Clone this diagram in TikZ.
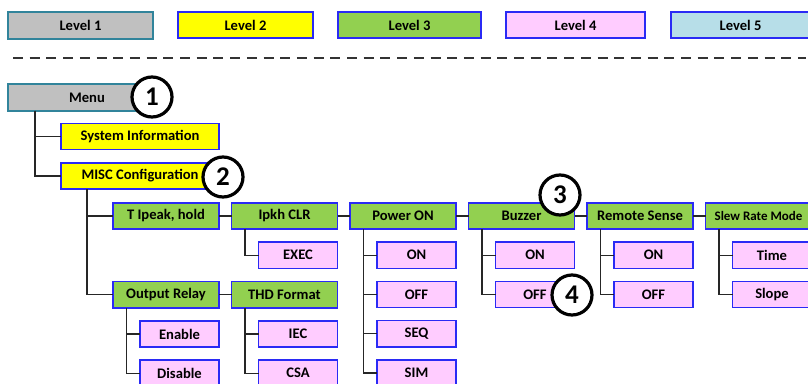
\documentclass[tikz,border=0pt]{standalone}
\usepackage{fontspec}
\setmainfont{Carlito}
\usepackage{tikz}
\usetikzlibrary{positioning,calc}
\definecolor{tealedge}{HTML}{31849B}
\definecolor{boxblue}{HTML}{2A2AF5}
\definecolor{lvlgray}{HTML}{C0C0C0}
\definecolor{lvlyellow}{HTML}{FFFF00}
\definecolor{lvlgreen}{HTML}{92D050}
\definecolor{lvlpink}{HTML}{FFCCFF}
\definecolor{lvlblue}{HTML}{B7DEE8}
\tikzset{
box/.style={
draw=boxblue,
line width=1.3pt,
minimum height=26.25pt,
inner sep=0pt,
outer sep=0pt,
align=center,
font=\fontsize{14.6}{16}\selectfont\bfseries
},
lvlone/.style={
box,
draw=tealedge,
line width=2.2pt,
fill=lvlgray
},
lvltwo/.style={
box,
fill=lvlyellow,
minimum width=158pt
},
lvlthree/.style={
box,
fill=lvlgreen,
minimum width=106pt
},
lvlfour/.style={
box,
fill=lvlpink,
minimum width=79pt
},
lvlfive/.style={
box,
fill=lvlblue
},
branch/.style={
line width=1.3pt,
draw=black!85
},
callout/.style={
circle,
draw,
line width=3.2pt,
fill=white,
minimum size=40pt,
inner sep=0pt,
font=\fontsize{27}{27}\selectfont\bfseries
}
}

\begin{document}
\begin{tikzpicture}[x=1pt,y=-1pt,node distance=13pt and 12.5pt]
\useasboundingbox (0,0) rectangle (808,383);

% legend
\node[lvlone,minimum width=145pt](lone) at (80.5,25.5){Level 1};
\node[lvltwo,minimum width=135pt](ltwo) at (245.5,25){Level 2};
\node[lvlthree,minimum width=143pt](lthree) at (409.5,25){Level 3};
\node[lvlfour,minimum width=139pt](lfour) at (575.5,25){Level 4};
\node[lvlfive,minimum width=139pt](lfive) at (740.5,25){Level 5};
\draw[line width=1.3pt,black!80,dash pattern=on 10pt off 6.7pt](13,58)--(806,58);

% menu tree
\node[lvlone,minimum width=158pt](menu) at (87,97.5){Menu};
\node[lvltwo](sysinfo) at (140,136.5){System Information};
\node[lvltwo](misc) at (140,176){MISC Configuration};

\node[lvlthree](tpk) at (166,216){T Ipeak, hold};
\node[lvlthree,right=of tpk](ipk){Ipkh CLR};
\node[lvlthree,right=of ipk](pwr){Power ON};
\node[lvlthree,right=of pwr](buz){Buzzer};
\node[lvlthree,right=of buz](rsen){Remote Sense};
\node[lvlthree,right=of rsen,font=\fontsize{13}{15}\selectfont\bfseries](slew){Slew Rate Mode};
\node[lvlthree,below=52.5pt of tpk](outr){Output Relay};
\node[lvlthree,right=of outr](thd){THD Format};

\node[lvlfour,below left=13pt and 0pt of ipk.south east](exec){EXEC};
\node[lvlfour,below left=13pt and 0pt of pwr.south east](pon){ON};
\node[lvlfour,below=of pon](poff){OFF};
\node[lvlfour,below=of poff](pseq){SEQ};
\node[lvlfour,below=of pseq](psim){SIM};
\node[lvlfour,below left=13pt and 0pt of buz.south east](bon){ON};
\node[lvlfour,below=of bon](boff){OFF};
\node[lvlfour,below left=13pt and 0pt of rsen.south east](ron){ON};
\node[lvlfour,below=of ron](roff){OFF};
\node[lvlfour,below left=13pt and 0pt of slew.south east](stime){Time};
\node[lvlfour,below=of stime](sslope){Slope};
\node[lvlfour,below left=13pt and 0pt of outr.south east](oen){Enable};
\node[lvlfour,below=of oen](odis){Disable};
\node[lvlfour,below left=13pt and 0pt of thd.south east](tiec){IEC};
\node[lvlfour,below=of tiec](tcsa){CSA};

\foreach \p/\c in {menu/sysinfo,menu/misc}
\draw[branch]([xshift=27pt]\p.south west)|-(\c.west);
\foreach \p/\c in {misc/tpk,misc/outr}
\draw[branch]([xshift=26pt]\p.south west)|-(\c.west);
\foreach \a/\b in {tpk/ipk,ipk/pwr,pwr/buz,buz/rsen,rsen/slew,outr/thd}
\draw[branch](\a)--(\b);
\foreach \p/\c in {ipk/exec,pwr/pon,pwr/poff,pwr/pseq,pwr/psim,buz/bon,buz/boff,rsen/ron,rsen/roff,slew/stime,slew/sslope,outr/oen,outr/odis,thd/tiec,thd/tcsa}
\draw[branch]([xshift=13.5pt]\p.south west)|-(\c.west);

% step numbers
\node[callout](nbone) at (152,97){1};
\node[callout](nbtwo) at (223,177){2};
\node[callout](nbthree) at (560,195){3};
\node[callout](nbfour) at (572,295){4};
\end{tikzpicture}
\end{document}
